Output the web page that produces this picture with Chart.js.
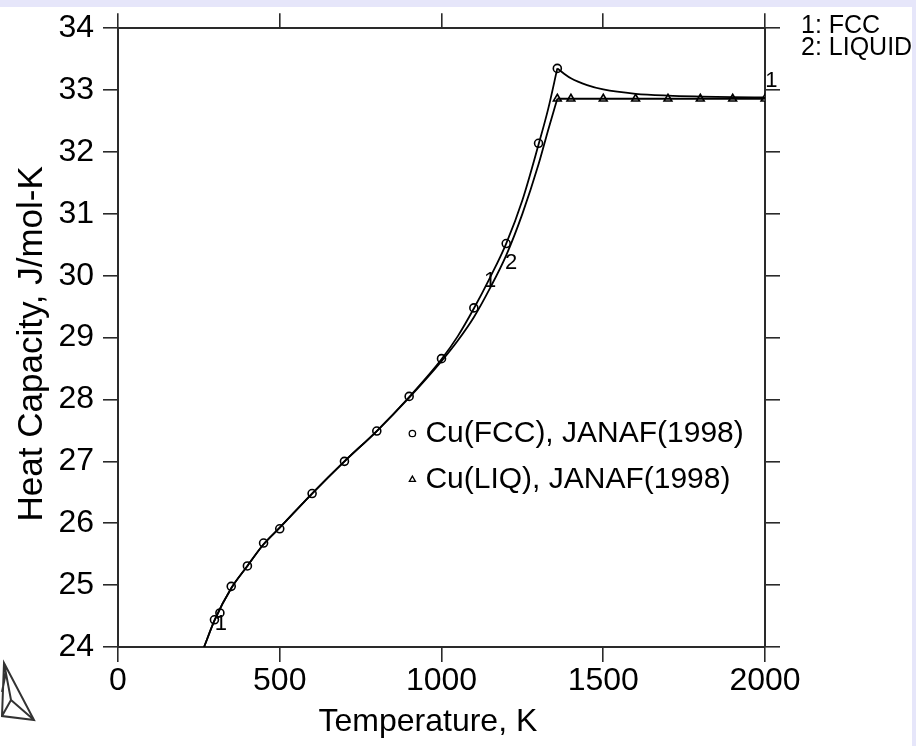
<!DOCTYPE html>
<html><head><meta charset="utf-8">
<script src="https://cdn.jsdelivr.net/npm/chart.js@4.4.1/dist/chart.umd.min.js"></script>
<style>html,body{margin:0;padding:0;background:#fff;}canvas{display:block;}</style>
</head><body>
<canvas id="c" width="916" height="746"></canvas>
<script>
// ---- data ----
const xTicks = [0, 500, 1000, 1500, 2000];
const yTicks = [24, 25, 26, 27, 28, 29, 30, 31, 32, 33, 34];

// calculated curve 1: FCC (below and above melting point)
const fccT  = [266, 300, 350, 400, 450, 500, 600, 700, 800, 900, 1000, 1050, 1100, 1150, 1200, 1250, 1300, 1330, 1358];
const fccCp = [24.0, 24.45, 24.95, 25.31, 25.66, 25.93, 26.48, 27.00, 27.49, 28.04, 28.65, 29.02, 29.47, 29.97, 30.52, 31.22, 32.12, 32.70, 33.35];
const fccHiT  = [1358, 1380, 1400, 1450, 1500, 1600, 1700, 1800, 1900, 2000];
const fccHiCp = [33.35, 33.26, 33.19, 33.08, 33.01, 32.94, 32.91, 32.895, 32.885, 32.88];

// calculated curve 2: LIQUID
const liqT  = [266, 300, 350, 400, 450, 500, 600, 700, 800, 900, 1000, 1050, 1100, 1150, 1200, 1250, 1300, 1330, 1358];
const liqCp = [24.0, 24.45, 24.95, 25.31, 25.66, 25.93, 26.48, 27.00, 27.49, 28.03, 28.62, 28.95, 29.33, 29.80, 30.33, 31.00, 31.80, 32.36, 32.86];
const liqHiT  = [1358, 2000];
const liqHiCp = [32.86, 32.86];

// experimental points (JANAF 1998)
const janafFccT  = [298.15, 315, 350, 400, 450, 500, 600, 700, 800, 900, 1000, 1100, 1200, 1300, 1358];
const janafFccCp = [24.44, 24.55, 24.98, 25.31, 25.68, 25.91, 26.48, 27.00, 27.49, 28.05, 28.66, 29.48, 30.52, 32.14, 33.35];
const janafLiqT  = [1358, 1400, 1500, 1600, 1700, 1800, 1900, 2000];
const janafLiqCp = [32.86, 32.86, 32.86, 32.86, 32.86, 32.86, 32.86, 32.86];

const phaseLegend = ['1: FCC', '2: LIQUID'];
const dataLegend  = ['Cu(FCC), JANAF(1998)', 'Cu(LIQ), JANAF(1998)'];
const curveLabelText = ['1', '1', '2', '1'];
const curveLabelT    = [318, 1150, 1215, 2020];
const curveLabelCp   = [24.38, 29.92, 30.2, 33.14];

const xTitle = 'Temperature, K';
const yTitle = 'Heat Capacity, J/mol-K';

// ---- chart ----
const FONT = '"Liberation Sans", Arial, Helvetica, sans-serif';
const AX = '#2a2a2a';
const pts = (xs, ys) => xs.map((x, i) => ({x: x, y: ys[i]}));
const curve = (xs, ys) => ({
  data: pts(xs, ys), showLine: true, borderColor: '#000', borderWidth: 1.8,
  pointRadius: 0, fill: false, cubicInterpolationMode: 'monotone'
});
const marks = (xs, ys, style, r) => ({
  data: pts(xs, ys), showLine: false, pointStyle: style, pointRadius: r,
  pointBackgroundColor: '#fff', pointBorderColor: '#000', pointBorderWidth: 1.6
});

function drawMarker(ctx, style, x, y, r) {
  ctx.save();
  ctx.strokeStyle = '#000'; ctx.fillStyle = '#fff'; ctx.lineWidth = 1.3;
  ctx.beginPath();
  if (style === 'circle') {
    ctx.arc(x, y, r, 0, Math.PI * 2);
  } else {
    ctx.moveTo(x, y - r);
    ctx.lineTo(x + r * 0.95, y + r * 0.65);
    ctx.lineTo(x - r * 0.95, y + r * 0.65);
    ctx.closePath();
  }
  ctx.fill(); ctx.stroke();
  ctx.restore();
}

const decor = {
  id: 'decor',
  beforeDraw(chart) {
    const ctx = chart.ctx, W = chart.width, H = chart.height;
    ctx.save();
    ctx.fillStyle = '#fff'; ctx.fillRect(0, 0, W, H);
    ctx.fillStyle = '#e6e6fa';
    ctx.fillRect(0, 0, W, 7);
    ctx.fillRect(W - 4, 0, 4, H);
    ctx.restore();
  },
  afterDraw(chart) {
    const ctx = chart.ctx, a = chart.chartArea;
    const xs = chart.scales.x, ys = chart.scales.y;
    ctx.save();
    ctx.fillStyle = '#000';
    // axis titles
    ctx.font = '32px ' + FONT;
    ctx.textAlign = 'center'; ctx.textBaseline = 'middle';
    ctx.fillText(xTitle, a.left + a.width * 0.479, a.bottom + 75);
    ctx.save();
    ctx.translate(32, a.top + a.height * 0.51);
    ctx.rotate(-Math.PI / 2);
    ctx.font = '35px ' + FONT;
    ctx.fillText(yTitle, 0, 0);
    ctx.restore();
    // phase legend (outside, top right)
    ctx.font = '25px ' + FONT;
    ctx.textAlign = 'left';
    phaseLegend.forEach((t, i) => ctx.fillText(t, a.right + 36, a.top - 2 + i * 22));
    // data legend (inside)
    const styles = ['circle', 'triangle'];
    ctx.font = '30px ' + FONT;
    dataLegend.forEach((t, i) => {
      const lx = a.left + a.width * 0.455;
      const ly = a.top + a.height * (0.655 + i * 0.074);
      drawMarker(ctx, styles[i], lx, ly, 3.2);
      ctx.fillStyle = '#000';
      ctx.fillText(t, lx + 13, ly);
    });
    // curve labels
    ctx.font = '22px ' + FONT;
    ctx.textAlign = 'center';
    curveLabelText.forEach((t, i) => {
      ctx.fillText(t, xs.getPixelForValue(curveLabelT[i]), ys.getPixelForValue(curveLabelCp[i]));
    });
    // Thermo-Calc logo (bottom left)
    ctx.strokeStyle = '#333'; ctx.lineWidth = 2;
    ctx.beginPath();
    ctx.moveTo(4, 663); ctx.lineTo(34, 720); ctx.lineTo(2, 716); ctx.closePath();
    ctx.moveTo(4, 663); ctx.lineTo(11, 700); ctx.lineTo(34, 720);
    ctx.moveTo(11, 700); ctx.lineTo(2, 716);
    ctx.moveTo(6, 672); ctx.lineTo(2, 692);
    ctx.stroke();
    ctx.restore();
  }
};

const gridOut = {display: true, drawOnChartArea: false, drawTicks: true, tickLength: 15, color: AX, lineWidth: 1.6};
const borderOpt = {display: true, color: AX, width: 2};
const tickFmt = v => String(v);

new Chart(document.getElementById('c'), {
  type: 'scatter',
  data: {
    datasets: [
      curve(fccT, fccCp),
      curve(fccHiT, fccHiCp),
      curve(liqT, liqCp),
      curve(liqHiT, liqHiCp),
      marks(janafFccT, janafFccCp, 'circle', 4),
      marks(janafLiqT, janafLiqCp, 'triangle', 4.5)
    ]
  },
  options: {
    responsive: false,
    animation: false,
    events: [],
    layout: {padding: {left: 0, right: 135, top: 0, bottom: 0}},
    plugins: {legend: {display: false}, tooltip: {enabled: false}},
    scales: {
      x: {
        type: 'linear', position: 'bottom', min: 0, max: 2000,
        afterBuildTicks: s => { s.ticks = xTicks.map(v => ({value: v})); },
        afterFit: s => { s.height = 99; },
        grid: gridOut, border: borderOpt,
        ticks: {color: '#000', font: {family: FONT, size: 32, lineHeight: 1}, padding: 3, maxRotation: 0, callback: tickFmt}
      },
      x2: {
        type: 'linear', position: 'top', min: 0, max: 2000, display: true,
        afterBuildTicks: s => { s.ticks = xTicks.map(v => ({value: v})); },
        afterFit: s => { s.height = 22; },
        grid: gridOut, border: borderOpt, ticks: {display: false}
      },
      y: {
        type: 'linear', position: 'left', min: 24, max: 34,
        afterBuildTicks: s => { s.ticks = yTicks.map(v => ({value: v})); },
        afterFit: s => { s.width = 118; },
        grid: gridOut, border: borderOpt,
        ticks: {color: '#000', font: {family: FONT, size: 32}, padding: 9, callback: tickFmt}
      },
      y2: {
        type: 'linear', position: 'right', min: 24, max: 34, display: true,
        afterBuildTicks: s => { s.ticks = yTicks.map(v => ({value: v})); },
        afterFit: s => { s.width = 16; },
        grid: gridOut, border: borderOpt, ticks: {display: false}
      }
    }
  },
  plugins: [decor]
});
</script>
</body></html>
